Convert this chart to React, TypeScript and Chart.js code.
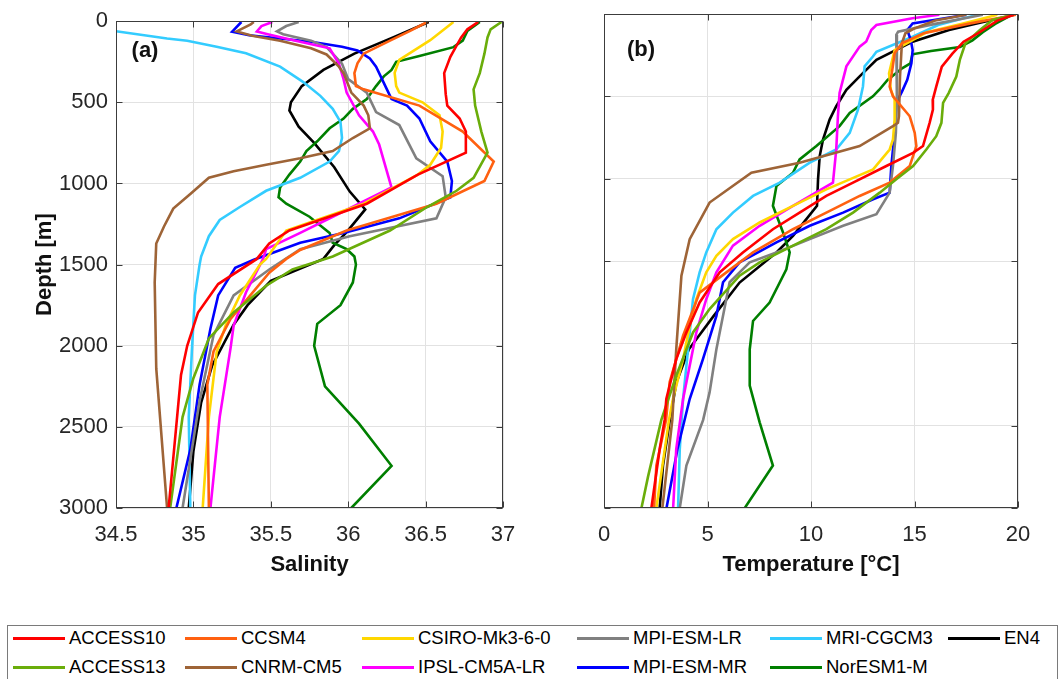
import React, { useEffect, useRef } from "react";
import { Chart, registerables } from "chart.js";

Chart.register(...registerables);

const FONT = '"Liberation Sans", Arial, Helvetica, sans-serif';

// ---------- categories / styling ----------
const MODELS = [
  "ACCESS10",
  "ACCESS13",
  "CCSM4",
  "CNRM-CM5",
  "CSIRO-Mk3-6-0",
  "IPSL-CM5A-LR",
  "MPI-ESM-LR",
  "MPI-ESM-MR",
  "MRI-CGCM3",
  "NorESM1-M",
  "EN4",
];
const COLORS = [
  "#FF0000",
  "#6AAD0A",
  "#FF6010",
  "#9E6437",
  "#FFD700",
  "#FF00FF",
  "#808080",
  "#0000FF",
  "#33CCFF",
  "#007F00",
  "#000000",
];

// ---------- tick labels ----------
const SAL_TICKS = [34.5, 35, 35.5, 36, 36.5, 37];
const TEMP_TICKS = [0, 5, 10, 15, 20];
const DEPTH_TICKS = [0, 500, 1000, 1500, 2000, 2500, 3000];

// ---------- (a) salinity profiles: depth [m] and salinity ----------
const SAL_D_ACCESS10 = [5, 50, 100, 150, 220, 320, 450, 520, 600, 680, 810, 945, 1125, 1290, 1370, 1465, 1620, 1795, 2000, 2180, 3000];
const SAL_ACCESS10 = [36.84, 36.77, 36.73, 36.7, 36.66, 36.62, 36.63, 36.64, 36.72, 36.76, 36.76, 36.45, 36.12, 35.62, 35.49, 35.41, 35.16, 35.03, 34.96, 34.92, 34.84];

const SAL_D_ACCESS13 = [5, 50, 100, 200, 320, 420, 520, 680, 810, 965, 1045, 1145, 1290, 1450, 1530, 1630, 1795, 1955, 2200, 2440, 3000];
const SAL_ACCESS13 = [36.99, 36.92, 36.9, 36.88, 36.85, 36.81, 36.82, 36.86, 36.9, 36.81, 36.7, 36.51, 36.27, 35.9, 35.64, 35.47, 35.26, 35.1, 35.0, 34.93, 34.85];

const SAL_D_CCSM4 = [5, 60, 120, 200, 260, 320, 400, 420, 520, 680, 865, 985, 1125, 1290, 1410, 1465, 1550, 1835, 2035, 2240, 3000];
const SAL_CCSM4 = [36.51, 36.4, 36.27, 36.1, 36.06, 36.04, 36.05, 36.1, 36.46, 36.74, 36.94, 36.88, 36.57, 35.99, 35.69, 35.6, 35.49, 35.24, 35.13, 35.09, 35.1];

const SAL_D_CNRM = [5, 20, 63, 90, 120, 167, 205, 280, 320, 440, 520, 580, 660, 720, 800, 845, 885, 925, 965, 1065, 1155, 1265, 1370, 1610, 2140, 3000];
const SAL_CNRM = [35.39, 35.37, 35.28, 35.38, 35.56, 35.76, 35.86, 35.94, 35.97, 36.02, 36.1, 36.13, 36.14, 36.03, 35.9, 35.69, 35.47, 35.26, 35.1, 34.98, 34.87, 34.81, 34.76, 34.75, 34.76, 34.83];

const SAL_D_CSIRO = [5, 117, 238, 318, 400, 440, 500, 580, 680, 780, 885, 945, 1125, 1290, 1465, 1500, 1690, 1870, 2040, 2440, 3000];
const SAL_CSIRO = [36.68, 36.53, 36.33, 36.3, 36.31, 36.33, 36.48, 36.59, 36.61, 36.6, 36.53, 36.45, 36.1, 35.6, 35.47, 35.43, 35.3, 35.21, 35.15, 35.1, 35.06];

const SAL_D_IPSL = [5, 30, 63, 80, 120, 167, 262, 357, 440, 580, 680, 760, 1025, 1205, 1305, 1405, 1465, 1670, 1875, 2015, 2440, 3000];
const SAL_IPSL = [35.51, 35.44, 35.41, 35.48, 35.66, 35.88, 35.94, 35.97, 35.99, 36.07, 36.16, 36.2, 36.28, 35.9, 35.69, 35.47, 35.45, 35.34, 35.26, 35.24, 35.17, 35.11];

const SAL_D_MPILR = [5, 30, 63, 80, 120, 160, 262, 357, 440, 560, 640, 845, 955, 1085, 1215, 1325, 1405, 1530, 1690, 1935, 2340, 3000];
const SAL_MPILR = [35.68, 35.6, 35.54, 35.58, 35.76, 35.86, 35.96, 36.0, 36.12, 36.18, 36.33, 36.44, 36.61, 36.63, 36.57, 36.01, 35.69, 35.49, 35.26, 35.13, 35.04, 34.93];

const SAL_D_MPIMR = [5, 55, 65, 87, 107, 127, 158, 180, 230, 280, 420, 480, 520, 600, 740, 865, 985, 1085, 1215, 1305, 1365, 1470, 1520, 1690, 1895, 2240, 2640, 3000];
const SAL_MPIMR = [35.31, 35.26, 35.25, 35.36, 35.56, 35.76, 35.96, 36.06, 36.14, 36.18, 36.25, 36.28, 36.38, 36.46, 36.53, 36.64, 36.67, 36.66, 36.33, 35.97, 35.69, 35.39, 35.27, 35.16, 35.11, 35.04, 34.98, 34.89];

const SAL_D_MRI = [35, 62, 107, 120, 157, 198, 280, 375, 460, 540, 620, 720, 800, 865, 965, 1045, 1145, 1225, 1325, 1450, 1500, 1690, 2035, 2440, 3000];
const SAL_MRI = [34.3, 34.5, 34.83, 34.96, 35.15, 35.34, 35.56, 35.71, 35.82, 35.9, 35.95, 35.96, 35.94, 35.88, 35.69, 35.47, 35.3, 35.17, 35.1, 35.05, 35.04, 35.01, 34.99, 34.97, 34.98];

const SAL_D_NORESM = [5, 60, 120, 160, 215, 250, 300, 340, 400, 480, 540, 600, 660, 740, 800, 865, 945, 1025, 1085, 1125, 1205, 1305, 1365, 1405, 1450, 1500, 1610, 1750, 1865, 2000, 2250, 2480, 2740, 3000];
const SAL_NORESM = [36.85, 36.77, 36.74, 36.68, 36.46, 36.31, 36.28, 36.23, 36.18, 36.12, 36.03, 35.97, 35.88, 35.8, 35.73, 35.69, 35.62, 35.56, 35.55, 35.6, 35.75, 35.88, 35.9, 35.99, 36.04, 36.05, 36.03, 35.95, 35.8, 35.78, 35.85, 36.07, 36.28, 36.02];

const SAL_D_EN4 = [5, 100, 200, 300, 400, 500, 550, 650, 750, 900, 1050, 1160, 1300, 1380, 1465, 1600, 1750, 1870, 2125, 2350, 2650, 3000];
const SAL_EN4 = [36.52, 36.29, 36.04, 35.84, 35.7, 35.63, 35.62, 35.68, 35.78, 35.91, 36.01, 36.11, 35.99, 35.91, 35.84, 35.5, 35.35, 35.26, 35.12, 35.05, 35.0, 34.97];

// ---------- (b) temperature profiles: depth [m] and temperature [°C] ----------
const TEMP_D_ACCESS10 = [5, 40, 117, 168, 239, 320, 441, 522, 581, 661, 802, 843, 923, 1024, 1105, 1206, 1307, 1448, 1569, 1752, 1934, 2096, 2338, 2465, 2642, 3000];
const TEMP_ACCESS10 = [19.8, 19.0, 18.07, 17.37, 16.84, 16.32, 16.05, 15.88, 15.89, 15.73, 15.41, 14.93, 13.64, 12.03, 10.74, 9.45, 8.16, 6.71, 5.59, 4.62, 3.98, 3.49, 3.01, 2.93, 2.69, 2.29];

const TEMP_D_ACCESS13 = [5, 36, 97, 178, 279, 380, 480, 540, 661, 742, 823, 923, 1004, 1085, 1206, 1307, 1407, 1508, 1589, 1792, 1934, 2197, 2465, 2808, 3000];
const TEMP_ACCESS13 = [19.8, 18.77, 18.16, 17.46, 17.19, 17.02, 16.65, 16.38, 16.3, 16.05, 15.57, 14.93, 14.12, 13.32, 12.03, 10.74, 9.13, 7.52, 6.55, 5.1, 4.3, 3.49, 2.77, 2.13, 1.81];

const TEMP_D_CCSM4 = [5, 57, 117, 178, 239, 320, 441, 500, 621, 722, 802, 923, 1024, 1105, 1206, 1307, 1448, 1569, 1692, 1954, 2237, 2465, 2742, 3000];
const TEMP_CCSM4 = [19.9, 17.7, 15.44, 14.39, 14.04, 13.95, 13.8, 13.96, 14.77, 15.01, 15.09, 14.77, 13.8, 12.35, 10.74, 9.13, 7.2, 5.91, 4.62, 3.82, 3.17, 3.0, 2.53, 2.42];

const TEMP_D_CNRM = [5, 40, 87, 117, 178, 380, 620, 661, 681, 802, 903, 964, 1145, 1367, 1589, 2036, 2465, 3000];
const TEMP_CNRM = [17.5, 16.0, 15.0, 14.56, 14.39, 14.3, 14.25, 14.2, 13.96, 12.35, 9.45, 7.12, 5.1, 4.14, 3.74, 3.49, 3.3, 2.82];

const TEMP_D_CSIRO = [5, 60, 110, 219, 360, 461, 520, 641, 762, 823, 944, 1004, 1065, 1165, 1266, 1367, 1468, 1569, 1732, 1894, 2096, 2338, 2465, 3000];
const TEMP_CSIRO = [19.0, 17.3, 15.6, 14.04, 13.77, 13.86, 14.04, 14.04, 13.96, 13.8, 13.0, 11.87, 10.74, 9.13, 7.52, 6.23, 5.43, 4.94, 4.46, 4.14, 3.82, 3.33, 3.14, 2.53];

const TEMP_D_IPSL = [5, 26, 67, 97, 167, 198, 318, 480, 621, 823, 1024, 1165, 1286, 1407, 1569, 1732, 1934, 2136, 2338, 2642, 3000];
const TEMP_IPSL = [16.2, 14.9, 13.16, 12.91, 12.67, 12.35, 11.71, 11.38, 11.3, 11.22, 11.06, 9.13, 7.52, 6.23, 5.43, 4.94, 4.46, 4.14, 3.82, 3.49, 3.34];

const TEMP_D_MPILR = [5, 60, 107, 127, 520, 722, 923, 1085, 1216, 1286, 1367, 1448, 1508, 1629, 1833, 2036, 2298, 2465, 2742, 3000];
const TEMP_MPILR = [18.3, 16.0, 14.21, 14.12, 14.15, 14.1, 13.96, 13.8, 13.16, 11.55, 9.94, 8.33, 7.04, 6.07, 5.75, 5.43, 5.1, 4.79, 3.98, 3.66];

const TEMP_D_MPIMR = [5, 57, 97, 158, 219, 300, 400, 470, 540, 722, 923, 1085, 1125, 1206, 1286, 1387, 1508, 1629, 1833, 2096, 2338, 2642, 3000];
const TEMP_MPIMR = [17.5, 14.91, 14.65, 14.82, 14.91, 14.85, 14.65, 14.4, 14.12, 14.04, 13.88, 13.8, 13.0, 11.55, 9.94, 8.33, 6.55, 5.75, 5.43, 4.78, 4.14, 3.55, 3.02];

const TEMP_D_MRI = [5, 26, 67, 138, 229, 258, 318, 440, 581, 722, 823, 903, 1024, 1105, 1206, 1307, 1448, 1569, 1732, 2036, 2338, 2642, 3000];
const TEMP_MRI = [18.07, 17.37, 16.14, 14.91, 13.16, 12.99, 12.59, 12.51, 12.27, 11.87, 11.22, 9.94, 8.49, 7.2, 6.23, 5.43, 4.94, 4.62, 4.3, 4.06, 3.82, 3.66, 3.58];

const TEMP_D_NORESM = [5, 60, 110, 160, 200, 225, 245, 300, 330, 400, 460, 500, 601, 681, 802, 883, 964, 1044, 1165, 1327, 1448, 1550, 1752, 1864, 2036, 2257, 2480, 2742, 3000];
const TEMP_NORESM = [19.7, 18.9, 18.3, 17.8, 17.2, 15.8, 14.9, 14.8, 14.4, 13.7, 13.3, 12.99, 11.87, 11.38, 10.26, 9.45, 9.13, 8.33, 8.16, 8.65, 8.97, 8.81, 8.0, 7.2, 7.04, 7.04, 7.52, 8.16, 6.8];

const TEMP_D_EN4 = [5, 16, 46, 97, 168, 279, 379, 460, 560, 641, 762, 863, 1004, 1165, 1347, 1448, 1631, 1833, 2036, 2237, 2465, 2742, 3000];
const TEMP_EN4 = [19.6, 19.5, 18.42, 16.67, 14.91, 13.16, 12.35, 11.71, 11.22, 10.9, 10.58, 10.42, 10.34, 10.29, 9.13, 8.33, 6.55, 5.3, 4.1, 3.5, 3.18, 2.85, 2.69];

const SAL_PROFILES: [number[], number[]][] = [
  [SAL_D_ACCESS10, SAL_ACCESS10],
  [SAL_D_ACCESS13, SAL_ACCESS13],
  [SAL_D_CCSM4, SAL_CCSM4],
  [SAL_D_CNRM, SAL_CNRM],
  [SAL_D_CSIRO, SAL_CSIRO],
  [SAL_D_IPSL, SAL_IPSL],
  [SAL_D_MPILR, SAL_MPILR],
  [SAL_D_MPIMR, SAL_MPIMR],
  [SAL_D_MRI, SAL_MRI],
  [SAL_D_NORESM, SAL_NORESM],
  [SAL_D_EN4, SAL_EN4],
];

const TEMP_PROFILES: [number[], number[]][] = [
  [TEMP_D_ACCESS10, TEMP_ACCESS10],
  [TEMP_D_ACCESS13, TEMP_ACCESS13],
  [TEMP_D_CCSM4, TEMP_CCSM4],
  [TEMP_D_CNRM, TEMP_CNRM],
  [TEMP_D_CSIRO, TEMP_CSIRO],
  [TEMP_D_IPSL, TEMP_IPSL],
  [TEMP_D_MPILR, TEMP_MPILR],
  [TEMP_D_MPIMR, TEMP_MPIMR],
  [TEMP_D_MRI, TEMP_MRI],
  [TEMP_D_NORESM, TEMP_NORESM],
  [TEMP_D_EN4, TEMP_EN4],
];

// ---------- chart helpers ----------
const framePlugin = {
  id: "panelFrame",
  afterDraw(chart: any, _args: any, opts: any) {
    const { ctx, chartArea: a } = chart;
    const xs = chart.scales.x;
    const ys = chart.scales.y;
    ctx.save();
    ctx.strokeStyle = "#3c3c3c";
    ctx.lineWidth = 1;
    const L = Math.round(a.left) + 0.5;
    const R = Math.round(a.right) - 0.5;
    const T = Math.round(a.top) + 0.5;
    const B = Math.round(a.bottom) - 0.5;
    ctx.strokeRect(L, T, R - L, B - T);
    ctx.beginPath();
    for (const t of xs.ticks) {
      const px = Math.round(xs.getPixelForValue(t.value)) + 0.5;
      ctx.moveTo(px, B);
      ctx.lineTo(px, B - 6);
      ctx.moveTo(px, T);
      ctx.lineTo(px, T + 6);
    }
    for (const t of ys.ticks) {
      const py = Math.round(ys.getPixelForValue(t.value)) + 0.5;
      ctx.moveTo(L, py);
      ctx.lineTo(L + 6, py);
      ctx.moveTo(R, py);
      ctx.lineTo(R - 6, py);
    }
    ctx.stroke();
    ctx.fillStyle = "#111";
    ctx.font = `bold 22px ${FONT}`;
    ctx.textAlign = "center";
    ctx.textBaseline = "middle";
    ctx.fillText(opts.label, opts.lx, opts.ly);
    ctx.restore();
  },
};

function makeDatasets(profiles: [number[], number[]][]) {
  return MODELS.map((name, i) => {
    const [depths, values] = profiles[i];
    return {
      label: name,
      data: depths.map((d, j) => ({ x: values[j], y: d })),
      borderColor: COLORS[i],
      backgroundColor: COLORS[i],
      borderWidth: 2.6,
      pointRadius: 0,
      pointHoverRadius: 0,
      showLine: true,
      tension: 0,
      clip: 0,
    };
  });
}

function makeConfig(kind: "sal" | "temp"): any {
  const isSal = kind === "sal";
  const xTicks = isSal ? SAL_TICKS : TEMP_TICKS;
  return {
    type: "scatter",
    data: { datasets: makeDatasets(isSal ? SAL_PROFILES : TEMP_PROFILES) },
    plugins: [framePlugin],
    options: {
      animation: false,
      responsive: false,
      maintainAspectRatio: false,
      events: [],
      layout: { padding: { left: 0, right: isSal ? 27 : 42, top: 14, bottom: 0 } },
      plugins: {
        legend: { display: false },
        tooltip: { enabled: false },
        panelFrame: isSal ? { label: "(a)", lx: 145, ly: 51 } : { label: "(b)", lx: 111, ly: 50 },
      },
      scales: {
        x: {
          type: "linear",
          min: xTicks[0],
          max: xTicks[xTicks.length - 1],
          afterBuildTicks: (s: any) => {
            s.ticks = xTicks.map((v) => ({ value: v }));
          },
          afterFit: (s: any) => {
            s.height = 92;
          },
          grid: { color: "#e2e2e2", lineWidth: 1, drawTicks: false },
          border: { display: false },
          ticks: {
            autoSkip: false,
            maxRotation: 0,
            padding: 14,
            color: "#262626",
            font: { family: FONT, size: 22 },
            callback: (v: any) => String(v),
          },
          title: {
            display: true,
            text: isSal ? "Salinity" : "Temperature [°C]",
            color: "#111",
            font: { family: FONT, size: 22, weight: "bold" },
            padding: { top: 0, bottom: 22 },
          },
        },
        y: {
          type: "linear",
          reverse: true,
          min: DEPTH_TICKS[0],
          max: DEPTH_TICKS[DEPTH_TICKS.length - 1],
          afterBuildTicks: (s: any) => {
            s.ticks = DEPTH_TICKS.map((v) => ({ value: v }));
          },
          afterFit: (s: any) => {
            s.width = isSal ? 116 : 74;
          },
          grid: { color: "#e2e2e2", lineWidth: 1, drawTicks: false },
          border: { display: false },
          ticks: {
            display: isSal,
            autoSkip: false,
            padding: 8,
            color: "#262626",
            font: { family: FONT, size: 22 },
            callback: (v: any) => String(v),
          },
          title: {
            display: isSal,
            text: "Depth [m]",
            color: "#111",
            font: { family: FONT, size: 22, weight: "bold" },
            padding: { top: 32, bottom: 0 },
          },
        },
      },
    },
  };
}

const LEGEND_COL_X = [13, 185, 362, 577, 770, 948];
const LEGEND_ROW_Y = [638, 667];

function Legend() {
  return (
    <>
      <div
        style={{
          position: "absolute",
          left: 7,
          top: 625,
          width: 1051,
          height: 62,
          border: "1.5px solid #7a7a7a",
          boxSizing: "border-box",
        }}
      />
      {MODELS.map((name, i) => {
        const col = Math.floor(i / 2);
        const row = i % 2;
        const x = LEGEND_COL_X[col];
        const y = LEGEND_ROW_Y[row];
        return (
          <React.Fragment key={name}>
            <div
              style={{
                position: "absolute",
                left: x,
                top: y - 1.5,
                width: 52,
                height: 3,
                background: COLORS[i],
              }}
            />
            <div
              style={{
                position: "absolute",
                left: x + 56,
                top: y,
                transform: "translateY(-50%)",
                fontFamily: FONT,
                fontSize: 18.5,
                lineHeight: 1,
                color: "#000",
                whiteSpace: "nowrap",
              }}
            >
              {name}
            </div>
          </React.Fragment>
        );
      })}
    </>
  );
}

export default function App() {
  const refA = useRef<HTMLCanvasElement>(null);
  const refB = useRef<HTMLCanvasElement>(null);
  useEffect(() => {
    document.body.style.margin = "0";
    const a = new Chart(refA.current as HTMLCanvasElement, makeConfig("sal"));
    const b = new Chart(refB.current as HTMLCanvasElement, makeConfig("temp"));
    return () => {
      a.destroy();
      b.destroy();
    };
  }, []);
  return (
    <div
      style={{
        position: "relative",
        width: 1060,
        height: 679,
        overflow: "hidden",
        background: "#fff",
      }}
    >
      <canvas
        ref={refA}
        width={530}
        height={600}
        style={{ position: "absolute", left: 0, top: 0, width: 530, height: 600 }}
      />
      <canvas
        ref={refB}
        width={530}
        height={600}
        style={{ position: "absolute", left: 530, top: 0, width: 530, height: 600 }}
      />
      <Legend />
    </div>
  );
}
